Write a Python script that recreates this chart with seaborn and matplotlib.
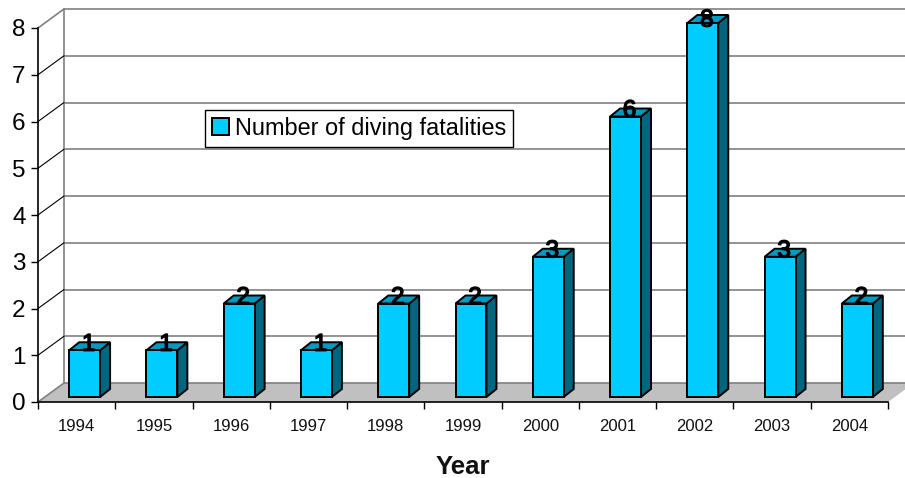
import matplotlib
matplotlib.use("Agg")
import matplotlib.patheffects as pe
import matplotlib.pyplot as plt
import seaborn as sns
import pandas as pd

years = ["1994", "1995", "1996", "1997", "1998", "1999", "2000", "2001", "2002", "2003", "2004"]
fatalities = [1, 1, 2, 1, 2, 2, 3, 6, 8, 3, 2]
series_name = "Number of diving fatalities"
y_ticks = [0, 1, 2, 3, 4, 5, 6, 7, 8]

FRONT = "#00CCFF"
TOP = "#0099BF"
SIDE = "#006680"
FLOOR = "#C0C0C0"
WALL = "#808080"

sns.set_theme(style="white")
plt.rcParams["font.family"] = ["Liberation Sans", "DejaVu Sans"]

df = pd.DataFrame({"year": years, "n": fatalities})

W, H = 905, 478
fig = plt.figure(figsize=(W / 100, H / 100), dpi=100, facecolor="white")
ax = fig.add_axes([38 / W, (H - 402) / H, 850 / W, 374 / H])
ax.patch.set_visible(False)

sns.barplot(data=df, x="year", y="n", color=FRONT, saturation=1, width=0.4,
            edgecolor="black", linewidth=1.4, label=series_name, ax=ax, zorder=4)
ax.set_xlim(-0.5, 10.5)
ax.set_ylim(0, 8)

# pixels -> data units, the 3D look is all done by hand
px = 11 / 850
py = 8 / 374
wall_dx, wall_dy = 26 * px, 19 * py
bar_dx, bar_dy = 8 * px, 5 * py
depth_x, depth_y = 10 * px, 8 * py

# floor and back wall
ax.fill([-0.5, 10.5, 10.5 + wall_dx, -0.5 + wall_dx], [0, 0, wall_dy, wall_dy],
        color=FLOOR, lw=0, clip_on=False, zorder=1)
ax.plot([-0.5 + wall_dx, -0.5 + wall_dx], [wall_dy, 8 + wall_dy], color=WALL, lw=1.2,
        clip_on=False, zorder=2)
for v in y_ticks:
    ax.plot([-0.5 + wall_dx, 10.5 + wall_dx], [v + wall_dy, v + wall_dy], color=WALL, lw=1.2,
            clip_on=False, zorder=2)
    edge = WALL if v in (0, 8) else "black"
    ax.plot([-0.5, -0.5 + wall_dx], [v, v + wall_dy], color=edge, lw=1.2 if v in (0, 8) else 0.8,
            clip_on=False, zorder=2)

# shift the seaborn bars off the front edge and add the side and top faces
for bar, value in zip(ax.patches, fatalities):
    bar.set_x(bar.get_x() + bar_dx)
    bar.set_y(bar_dy)
    bar.set_clip_on(False)
    x0, x1 = bar.get_x(), bar.get_x() + bar.get_width()
    y0, y1 = bar_dy, bar_dy + value
    ax.fill([x1, x1 + depth_x, x1 + depth_x, x1], [y0, y0 + depth_y, y1 + depth_y, y1],
            facecolor=SIDE, edgecolor="black", lw=1.4, clip_on=False, zorder=3)
    ax.fill([x0, x1, x1 + depth_x, x0 + depth_x], [y1, y1, y1 + depth_y, y1 + depth_y],
            facecolor=TOP, edgecolor="black", lw=1.4, clip_on=False, zorder=3)
    # the tallest label sits lower, it would leave the chart otherwise
    label_y = y1 + (5 if value == max(fatalities) else 8) * py
    ax.text((x0 + x1) / 2 + 4 * px, label_y, str(value), ha="center", va="center_baseline",
            fontsize=17.5, color="black", zorder=6, clip_on=False,
            path_effects=[pe.withStroke(linewidth=1.0, foreground="black")])

for side in ["top", "right"]:
    ax.spines[side].set_visible(False)
for side in ["left", "bottom"]:
    ax.spines[side].set_visible(True)
    ax.spines[side].set_color("black")
    ax.spines[side].set_linewidth(1.2)
    ax.spines[side].set_zorder(3)

ax.set_yticks(y_ticks)
ax.set_yticklabels([str(v) for v in y_ticks], fontsize=17.5, color="black")
ax.tick_params(axis="y", left=True, length=5, width=1, color="black", pad=4)
ax.set_xticks(range(len(years)))
ax.set_xticklabels(years, fontsize=12, color="#111111")
ax.set_xticks([i - 0.5 for i in range(len(years) + 1)], minor=True)
ax.tick_params(axis="x", which="major", bottom=False, pad=6)
ax.tick_params(axis="x", which="minor", bottom=True, length=5, width=1, color="black")
ax.set_xlabel("Year", fontsize=18.5, fontweight="bold", color="#111111", labelpad=15.5)
ax.xaxis.label.set_x((463 - 38) / 850)
ax.set_ylabel("")

leg = ax.legend(loc="upper left", bbox_to_anchor=(205 / W, 1 - 110 / H), bbox_transform=fig.transFigure,
                borderaxespad=0, fancybox=False, framealpha=1, edgecolor="black", fontsize=16.9,
                handlelength=0.72, handleheight=0.72, handletextpad=0.26, borderpad=0.3,
                labelcolor="black")
leg.get_frame().set_linewidth(1)
leg.set_zorder(7)

fig.savefig("out.png", dpi=100)
